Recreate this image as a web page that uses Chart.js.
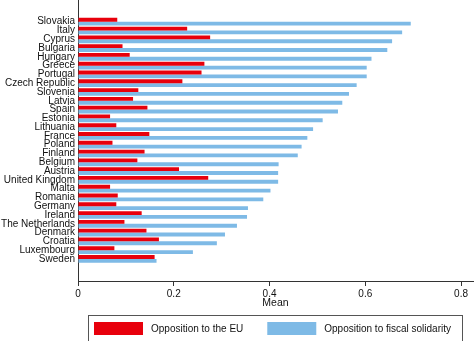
<!DOCTYPE html>
<html>
<head>
<meta charset="utf-8">
<script src="https://cdn.jsdelivr.net/npm/chart.js@4/dist/chart.umd.min.js"></script>
<style>
  html, body { margin: 0; padding: 0; background: #fff; }
  #wrap { width: 474px; height: 341px; }
</style>
</head>
<body>
<div id="wrap"><canvas id="myChart" width="474" height="341"></canvas></div>
<script>
'use strict';

/*          DATA          */
// countries, top to bottom as in the figure
const countries = ['Slovakia', 'Italy', 'Cyprus', 'Bulgaria', 'Hungary', 'Greece', 'Portugal',
  'Czech Republic', 'Slovenia', 'Latvia', 'Spain', 'Estonia', 'Lithuania', 'France', 'Poland',
  'Finland', 'Belgium', 'Austria', 'United Kingdom', 'Malta', 'Romania', 'Germany', 'Ireland',
  'The Netherlands', 'Denmark', 'Croatia', 'Luxembourg', 'Sweden'];
// mean opposition to the EU (red bars)
const euOpposition = [0.082, 0.228, 0.276, 0.093, 0.108, 0.264, 0.258, 0.218, 0.126, 0.115,
  0.145, 0.067, 0.080, 0.149, 0.072, 0.139, 0.124, 0.211, 0.272, 0.067, 0.083, 0.080, 0.133,
  0.097, 0.143, 0.169, 0.076, 0.160];
// mean opposition to fiscal solidarity (blue bars)
const fiscalOpposition = [0.695, 0.677, 0.656, 0.646, 0.613, 0.603, 0.603, 0.582, 0.566, 0.552,
  0.543, 0.511, 0.491, 0.479, 0.467, 0.459, 0.419, 0.418, 0.418, 0.402, 0.387, 0.355, 0.353,
  0.332, 0.307, 0.290, 0.240, 0.164];
const seriesNames = ['Opposition to the EU', 'Opposition to fiscal solidarity'];
const xTicks = [0, 0.2, 0.4, 0.6, 0.8];

/*          STYLE          */
const FONT = '"Liberation Sans", Arial, Helvetica, sans-serif';
const RED = 'rgb(232, 0, 12)';
const BLUE = 'rgb(126, 186, 230)';
const AXIS = '#333';

// legend drawn in a box below the plot, like the original figure
const boxLegend = {
  id: 'boxLegend',
  afterDraw(chart) {
    const ctx = chart.ctx;
    const area = chart.chartArea;
    ctx.save();
    ctx.strokeStyle = '#555';
    ctx.lineWidth = 1;
    ctx.strokeRect(area.left + 10.5, 315.5, area.right - area.left - 21, 40);
    ctx.font = '10px ' + FONT;
    ctx.textBaseline = 'middle';
    let x = area.left + 16;
    chart.data.datasets.forEach(ds => {
      ctx.fillStyle = ds.backgroundColor;
      ctx.fillRect(x, 322, 49, 13);
      ctx.fillStyle = '#111';
      ctx.fillText(ds.label, x + 57, 329);
      x += 57 + ctx.measureText(ds.label).width + 24;
    });
    ctx.restore();
  }
};

// bars sit on a numeric index axis so the space above/below the rows matches the figure
const toPoints = arr => arr.map((v, i) => ({ x: v, y: i }));

const config = {
  type: 'bar',
  data: {
    datasets: [{
      label: seriesNames[0],
      data: toPoints(euOpposition),
      backgroundColor: RED,
      categoryPercentage: 0.88,
      barPercentage: 1.0
    },
    {
      label: seriesNames[1],
      data: toPoints(fiscalOpposition),
      backgroundColor: BLUE,
      categoryPercentage: 0.88,
      barPercentage: 1.0
    }]
  },
  options: {
    indexAxis: 'y',
    responsive: false,
    animation: false,
    layout: { padding: { top: 0, right: 1, bottom: 32, left: 0 } },
    scales: {
      x: {
        type: 'linear',
        min: 0,
        max: 0.825,
        afterBuildTicks: s => { s.ticks = xTicks.map(v => ({ value: v })); },
        afterFit: s => { s.height = 28; s.paddingLeft = 0; s.paddingRight = 0; },
        grid: { drawOnChartArea: false, drawTicks: true, tickLength: 5, color: AXIS },
        border: { display: true, color: AXIS, width: 1 },
        ticks: {
          padding: 2,
          color: '#111',
          font: { family: FONT, size: 10 },
          maxRotation: 0,
          callback: v => String(v)
        },
        title: {
          display: true,
          text: 'Mean',
          color: '#111',
          font: { family: FONT, size: 10.5 },
          padding: { top: 0, bottom: 0 }
        }
      },
      y: {
        type: 'linear',
        reverse: true,
        min: -1.9,
        max: 28.94,
        afterBuildTicks: s => { s.ticks = countries.map((c, i) => ({ value: i })); },
        afterFit: s => { s.width = 78; s.paddingTop = 0; s.paddingBottom = 0; },
        grid: { display: false, drawTicks: false },
        border: { display: true, color: AXIS, width: 1 },
        ticks: {
          padding: 3,
          color: '#111',
          autoSkip: false,
          font: { family: FONT, size: 10 },
          callback: v => countries[v]
        }
      }
    },
    plugins: {
      legend: { display: false },
      tooltip: { enabled: false }
    }
  },
  plugins: [boxLegend]
};

const myChart = new Chart(document.getElementById('myChart'), config);
</script>
</body>
</html>
